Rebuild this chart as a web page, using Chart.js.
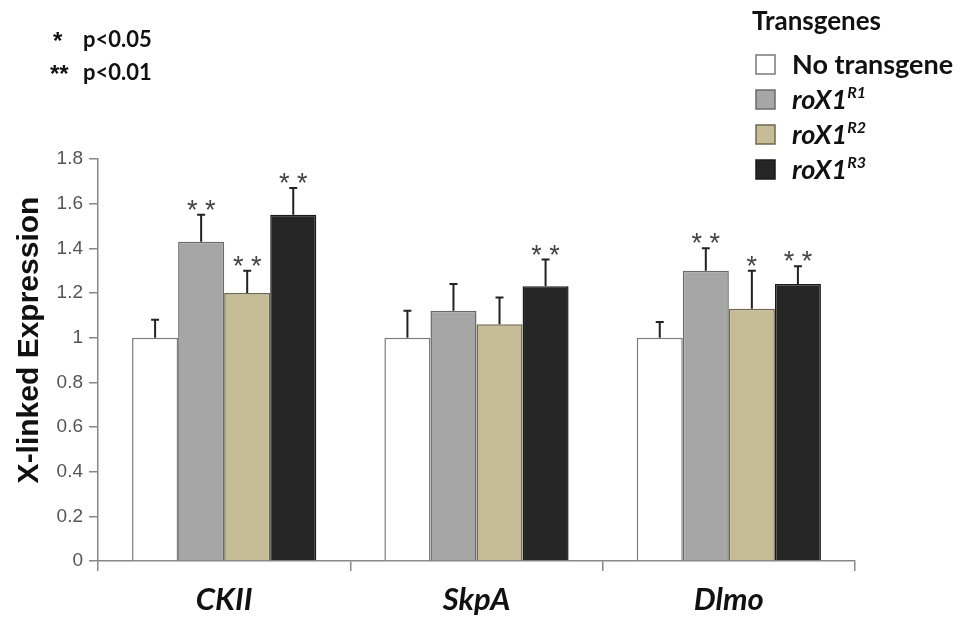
<!DOCTYPE html>
<html>
<head>
<meta charset="utf-8">
<script src="https://cdn.jsdelivr.net/npm/chart.js@4/dist/chart.umd.min.js"></script>
<style>
  html, body { margin: 0; padding: 0; background: #fff; }
  #wrap { width: 965px; height: 626px; position: relative; }
</style>
</head>
<body>
<div id="wrap"><canvas id="c" width="965" height="626"></canvas></div>
<script>
// Genes measured
const categories = ['CKII', 'SkpA', 'Dlmo'];

// Legend labels (main text + superscript)
const seriesMain = ['No transgene', 'roX1', 'roX1', 'roX1'];
const seriesSup = ['', 'R1', 'R2', 'R3'];

// Mean X-linked expression per gene
const noTransgene = [1.00, 1.00, 1.00];
const roX1R1 = [1.43, 1.12, 1.30];
const roX1R2 = [1.20, 1.06, 1.13];
const roX1R3 = [1.55, 1.23, 1.24];

// Upper error (SD) per gene
const noTransgeneErr = [0.08, 0.12, 0.07];
const roX1R1Err = [0.12, 0.12, 0.10];
const roX1R2Err = [0.10, 0.12, 0.17];
const roX1R3Err = [0.12, 0.12, 0.08];

// Significance marks
const noTransgeneSig = ['', '', ''];
const roX1R1Sig = ['**', '', '**'];
const roX1R2Sig = ['**', '', '*'];
const roX1R3Sig = ['**', '**', '**'];

// Y axis ticks
const yTicks = [0, 0.2, 0.4, 0.6, 0.8, 1, 1.2, 1.4, 1.6, 1.8];

const yTitle = 'X-linked Expression';

const fills = ['#ffffff', '#a6a6a6', '#c6bd97', '#262626'];
const borders = ['#7a7a7a', '#6a6a6a', '#6e6850', '#1a1a1a'];
const errs = [noTransgeneErr, roX1R1Err, roX1R2Err, roX1R3Err];
const sigs = [noTransgeneSig, roX1R1Sig, roX1R2Sig, roX1R3Sig];
const vals = [noTransgene, roX1R1, roX1R2, roX1R3];

const datasets = vals.map((v, i) => ({
  label: seriesMain[i] + seriesSup[i],
  data: v,
  backgroundColor: fills[i],
  borderColor: borders[i],
  borderWidth: 1.5,
  categoryPercentage: 0.73,
  barPercentage: 1.0
}));

// Error whiskers and significance stars above each bar
const errorBars = {
  id: 'errorBars',
  afterDatasetsDraw(chart) {
    const ctx = chart.ctx;
    const y = chart.scales.y;
    ctx.save();
    chart.data.datasets.forEach((ds, i) => {
      const meta = chart.getDatasetMeta(i);
      meta.data.forEach((el, j) => {
        const top = y.getPixelForValue(ds.data[j] + errs[i][j]);
        ctx.strokeStyle = '#222';
        ctx.lineWidth = 2;
        ctx.beginPath();
        ctx.moveTo(el.x, el.y);
        ctx.lineTo(el.x, top);
        ctx.moveTo(el.x - 4, top);
        ctx.lineTo(el.x + 4, top);
        ctx.stroke();
        const s = sigs[i][j];
        if (s) {
          ctx.fillStyle = '#444';
          ctx.font = '27px "Liberation Sans", Arial, sans-serif';
          ctx.textAlign = 'center';
          ctx.textBaseline = 'alphabetic';
          ctx.fillText(s.split('').join(' '), el.x, top + 4);
        }
      });
    });
    ctx.restore();
  }
};

// Rotated axis title, legend with superscripts and the significance key
const keyLegend = {
  id: 'keyLegend',
  afterDraw(chart) {
    const ctx = chart.ctx;
    ctx.save();
    ctx.fillStyle = '#111';

    // y axis title
    ctx.save();
    ctx.translate(30, 340);
    ctx.rotate(-Math.PI / 2);
    ctx.textAlign = 'center';
    ctx.textBaseline = 'middle';
    ctx.font = 'bold 30px "Liberation Sans", Arial, sans-serif';
    ctx.fillText(yTitle, 0, 0);
    ctx.restore();

    ctx.textBaseline = 'middle';
    ctx.textAlign = 'left';

    ctx.font = 'bold 24px "Liberation Sans", Arial, sans-serif';
    ctx.fillText('*', 53, 42);
    ctx.fillText('**', 50, 75);
    ctx.font = 'bold 22px Lato, sans-serif';
    ctx.fillText('p<0.05', 83, 40);
    ctx.fillText('p<0.01', 83, 73);

    ctx.font = 'bold 26px Lato, sans-serif';
    ctx.fillText('Transgenes', 752, 22);

    const box = 19;
    for (let i = 0; i < seriesMain.length; i++) {
      const top = 55 + i * 35;
      ctx.fillStyle = fills[i];
      ctx.fillRect(756, top, box, box);
      ctx.strokeStyle = borders[i];
      ctx.lineWidth = 1.5;
      ctx.strokeRect(756, top, box, box);
      ctx.fillStyle = '#111';
      const cy = top + box / 2 + 1;
      if (seriesSup[i]) {
        ctx.font = 'italic bold 27px Lato, sans-serif';
        ctx.fillText(seriesMain[i], 792, cy);
        const w = ctx.measureText(seriesMain[i]).width;
        ctx.font = 'italic bold 16px Lato, sans-serif';
        ctx.fillText(seriesSup[i], 792 + w, cy - 8);
      } else {
        ctx.font = 'bold 27px Lato, sans-serif';
        ctx.fillText(seriesMain[i], 792, cy);
      }
    }
    ctx.restore();
  }
};

new Chart(document.getElementById('c'), {
  type: 'bar',
  data: { labels: categories, datasets },
  plugins: [errorBars, keyLegend],
  options: {
    responsive: false,
    animation: false,
    devicePixelRatio: 1,
    layout: { padding: { top: 159, right: 110, bottom: 0, left: 0 } },
    plugins: { legend: { display: false }, tooltip: { enabled: false } },
    scales: {
      x: {
        grid: { drawOnChartArea: false, offset: true, tickLength: 10, color: '#888', lineWidth: 1.5 },
        border: { color: '#888', width: 1.5 },
        ticks: {
          color: '#111',
          padding: 10,
          font: { family: 'Lato, sans-serif', size: 31, weight: 'bold', style: 'italic' }
        },
        afterFit(s) { s.height = 65; }
      },
      y: {
        min: 0,
        max: 1.8,
        afterBuildTicks(s) { s.ticks = yTicks.map(v => ({ value: v })); },
        grid: { drawOnChartArea: false, tickLength: 9, color: '#888', lineWidth: 1.5 },
        border: { color: '#888', width: 1.5 },
        ticks: {
          color: '#555',
          padding: 6,
          font: { family: '"Liberation Sans", Arial, sans-serif', size: 19 },
          callback: v => String(v)
        },
        afterFit(s) { s.width = 98; }
      }
    }
  }
});
</script>
</body>
</html>
